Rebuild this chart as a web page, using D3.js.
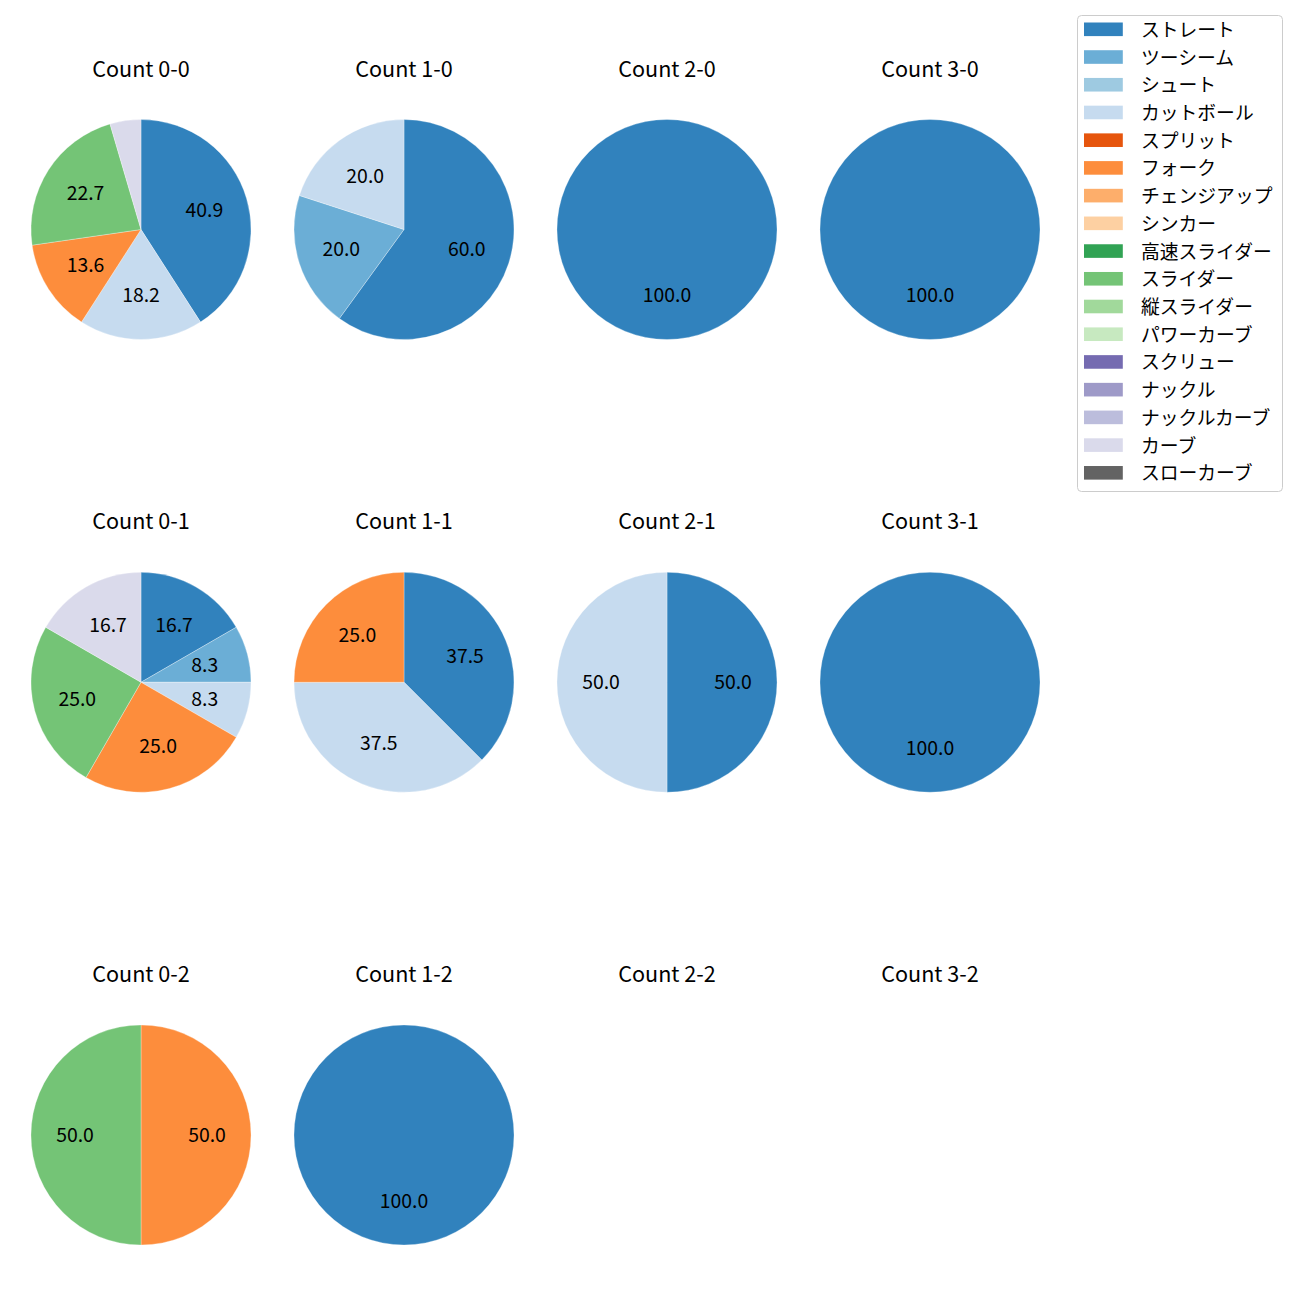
<!DOCTYPE html>
<html>
<head>
<meta charset="utf-8">
<script src="https://cdn.jsdelivr.net/npm/d3@7"></script>
<style>
  body { margin: 0; background: #fff; }
  svg text { font-family: "Noto Sans CJK JP", "Noto Sans", sans-serif; fill: #000; }
</style>
</head>
<body>
<svg id="chart" width="1300" height="1300"></svg>
<script>
// Pitch types (legend order)
const pitchTypes = ["ストレート","ツーシーム","シュート","カットボール","スプリット","フォーク","チェンジアップ","シンカー","高速スライダー","スライダー","縦スライダー","パワーカーブ","スクリュー","ナックル","ナックルカーブ","カーブ","スローカーブ"];
const pitchColors = ["#3182bd","#6baed6","#9ecae1","#c6dbef","#e6550d","#fd8d3c","#fdae6b","#fdd0a2","#31a354","#74c476","#a1d99b","#c7e9c0","#756bb1","#9e9ac8","#bcbddc","#dadaeb","#636363"];

// Count labels (balls-strikes), laid out in rows by strikes
const countLabels = ["0-0","1-0","2-0","3-0","0-1","1-1","2-1","3-1","0-2","1-2","2-2","3-2"];

// Pitch counts per count, in pitchTypes order
const count00 = [9,0,0,4,0,3,0,0,0,5,0,0,0,0,0,1,0];
const count10 = [3,1,0,1,0,0,0,0,0,0,0,0,0,0,0,0,0];
const count20 = [1,0,0,0,0,0,0,0,0,0,0,0,0,0,0,0,0];
const count30 = [1,0,0,0,0,0,0,0,0,0,0,0,0,0,0,0,0];
const count01 = [2,1,0,1,0,3,0,0,0,3,0,0,0,0,0,2,0];
const count11 = [3,0,0,3,0,2,0,0,0,0,0,0,0,0,0,0,0];
const count21 = [1,0,0,1,0,0,0,0,0,0,0,0,0,0,0,0,0];
const count31 = [1,0,0,0,0,0,0,0,0,0,0,0,0,0,0,0,0];
const count02 = [0,0,0,0,0,1,0,0,0,1,0,0,0,0,0,0,0];
const count12 = [1,0,0,0,0,0,0,0,0,0,0,0,0,0,0,0,0];
const count22 = [0,0,0,0,0,0,0,0,0,0,0,0,0,0,0,0,0];
const count32 = [0,0,0,0,0,0,0,0,0,0,0,0,0,0,0,0,0];
const countValues = [count00,count10,count20,count30,count01,count11,count21,count31,count02,count12,count22,count32];

const svg = d3.select("#chart");
const color = d3.scaleOrdinal().domain(pitchTypes).range(pitchColors);

const colX = d3.scaleLinear().domain([0, 3]).range([141, 930]);
const rowY = d3.scaleLinear().domain([0, 2]).range([229.5, 1135]);
const R = 110;
const fontSize = 19.4;
const titleSize = 21.6;

const pie = d3.pie().sort(null).value(d => d.v);
const arc = d3.arc().innerRadius(0).outerRadius(R);
const labelArc = d3.arc().innerRadius(R * 0.6).outerRadius(R * 0.6);

countLabels.forEach((lab, i) => {
  const col = i % 4, row = Math.floor(i / 4);
  const cx = colX(col), cy = rowY(row);
  const g = svg.append("g").attr("transform", `translate(${cx},${cy})`);

  g.append("text")
    .attr("x", 0).attr("y", -R - 43)
    .attr("text-anchor", "middle")
    .style("font-size", titleSize + "px")
    .text("Count " + lab);

  const vals = countValues[i];
  const total = d3.sum(vals);
  if (total === 0) return;
  const data = pitchTypes.map((p, k) => ({ p, v: vals[k] })).filter(d => d.v > 0);
  const arcs = pie(data);

  g.selectAll("path").data(arcs).join("path")
    .attr("d", arc)
    .attr("fill", d => color(d.data.p))
    .attr("stroke", "#fff").attr("stroke-width", 0.3);

  g.selectAll("text.lbl").data(arcs.filter(d => d.data.v / total * 100 >= 5)).join("text")
    .attr("class", "lbl")
    .attr("transform", d => { const c = labelArc.centroid(d); return `translate(${c[0]},${c[1] - 2})`; })
    .attr("text-anchor", "middle")
    .attr("dominant-baseline", "central")
    .style("font-size", fontSize + "px")
    .text(d => (d.data.v / total * 100).toFixed(1));
});

// Legend
const lg = svg.append("g");
lg.append("rect")
  .attr("x", 1077.5).attr("y", 15.5).attr("width", 205).attr("height", 476)
  .attr("rx", 4).attr("fill", "#fff").attr("stroke", "#cccccc").attr("stroke-width", 1);
const rowStep = 27.72;
const items = lg.selectAll("g.item").data(pitchTypes).join("g")
  .attr("class", "item")
  .attr("transform", (d, k) => `translate(0,${29.3 + k * rowStep})`);
items.append("rect")
  .attr("x", 1084).attr("y", -6.8).attr("width", 38.8).attr("height", 13.6)
  .attr("fill", d => color(d));
items.append("text")
  .attr("x", 1141).attr("y", -1)
  .attr("dominant-baseline", "central")
  .style("font-size", "18.8px")
  .text(d => d);
</script>
</body>
</html>
